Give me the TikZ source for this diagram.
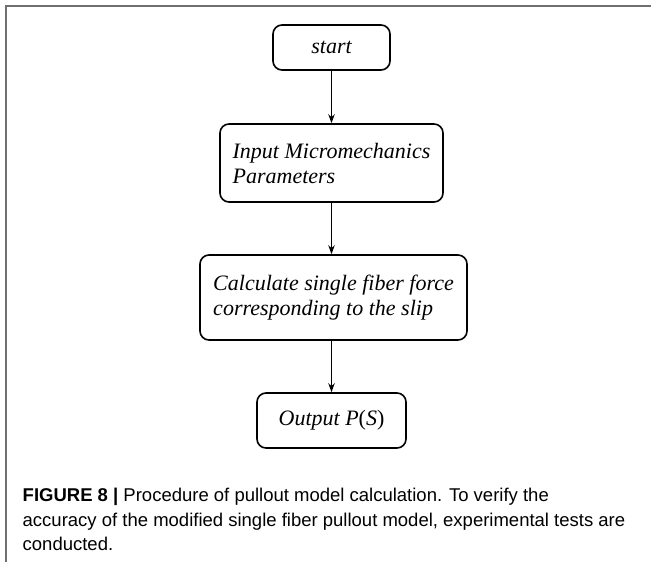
\documentclass[tikz,border=0pt]{standalone}
\usepackage{fontspec}
\setmainfont{Liberation Serif}
\newfontfamily\capfont{Liberation Sans}
\usetikzlibrary{arrows.meta}
\definecolor{framegray}{HTML}{707070}
\tikzset{
  box/.style={draw, line width=1.6pt, rounded corners=9pt, inner sep=0pt,
    font=\fontsize{22}{25}\selectfont\itshape, align=left},
  arr/.style={-{Stealth[length=9pt,width=6.5pt]}, line width=1.5pt},
  captext/.style={font=\capfont\fontsize{18.5}{22}\selectfont, inner sep=0pt, anchor=base west}
}
\begin{document}
\begin{tikzpicture}[x=1pt,y=-1pt]
\useasboundingbox (0,0) rectangle (651,562);
\draw[framegray, line width=1.5pt] (6,562) -- (6,6) -- (651,6);
\node[box, minimum width=117pt, minimum height=45pt] (start) at (331.5,47.5) {start};
\node[box, minimum width=223pt, minimum height=78pt] (input) at (331.5,163) {Input Micromechanics\\Parameters};
\node[box, minimum width=267pt, minimum height=85pt] (calc) at (333.5,297.5) {Calculate single fiber force\\corresponding to the slip};
\node[box, minimum width=149pt, minimum height=55pt] (out) at (331.5,420.5) {Output P\textup{(}S\textup{)}};
\draw[arr] (start.south) -- (input.north);
\draw[arr] (input.south) -- (input.south |- calc.north);
\draw[arr] (input.south |- calc.south) -- (out.north);
\node[captext] (c1) at (22.5,501) {\textbf{FIGURE 8 |} Procedure of pullout model calculation. To verify the};
\node[captext] (c2) at (22.5,526) {accuracy of the modified single fiber pullout model, experimental tests are};
\node[captext] (c3) at (22.5,550) {conducted.};
\end{tikzpicture}
\end{document}
